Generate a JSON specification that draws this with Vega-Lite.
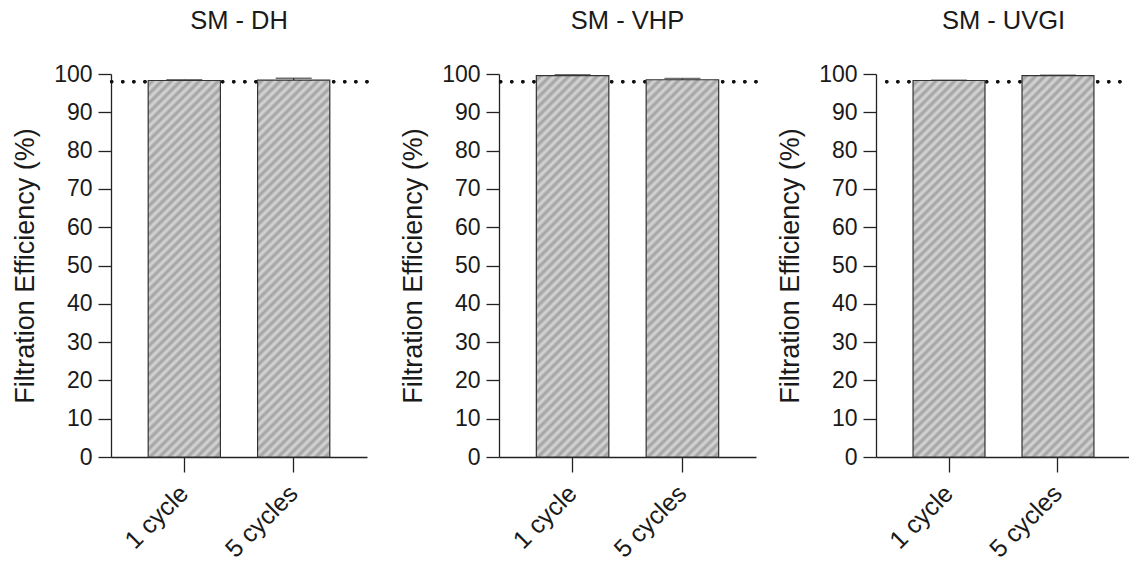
{
  "$schema": "https://vega.github.io/schema/vega-lite/v6.json",
  "background": "white",
  "padding": {"left": 11, "top": 8, "right": 0, "bottom": 0},
  "config": {
    "font": "Liberation Sans",
    "view": {"stroke": null},
    "axis": {"labelFont": "Liberation Sans", "titleFont": "Liberation Sans", "labelColor": "#1a1a1a", "titleColor": "#1a1a1a", "domainColor": "#222", "tickColor": "#222", "domainWidth": 1.3, "tickWidth": 1.3, "grid": false},
    "title": {"font": "Liberation Sans", "fontSize": 25.5, "fontWeight": "normal", "color": "#1a1a1a", "frame": "group", "anchor": "middle", "offset": 29},
    "bar": {
      "stroke": "#333",
      "strokeWidth": 1.2,
      "fill": {
        "gradient": "linear", "x1": 0, "y1": 0, "x2": 0.219, "y2": 1.149,
        "stops": [
          {"offset": 0, "color": "#d8d8d8"}, {"offset": 0.0104, "color": "#a0a0a0"},
          {"offset": 0.0208, "color": "#d8d8d8"}, {"offset": 0.0313, "color": "#a0a0a0"},
          {"offset": 0.0417, "color": "#d8d8d8"}, {"offset": 0.0521, "color": "#a0a0a0"},
          {"offset": 0.0625, "color": "#d8d8d8"}, {"offset": 0.0729, "color": "#a0a0a0"},
          {"offset": 0.0833, "color": "#d8d8d8"}, {"offset": 0.0938, "color": "#a0a0a0"},
          {"offset": 0.1042, "color": "#d8d8d8"}, {"offset": 0.1146, "color": "#a0a0a0"},
          {"offset": 0.125, "color": "#d8d8d8"}, {"offset": 0.1354, "color": "#a0a0a0"},
          {"offset": 0.1458, "color": "#d8d8d8"}, {"offset": 0.1563, "color": "#a0a0a0"},
          {"offset": 0.1667, "color": "#d8d8d8"}, {"offset": 0.1771, "color": "#a0a0a0"},
          {"offset": 0.1875, "color": "#d8d8d8"}, {"offset": 0.1979, "color": "#a0a0a0"},
          {"offset": 0.2083, "color": "#d8d8d8"}, {"offset": 0.2188, "color": "#a0a0a0"},
          {"offset": 0.2292, "color": "#d8d8d8"}, {"offset": 0.2396, "color": "#a0a0a0"},
          {"offset": 0.25, "color": "#d8d8d8"}, {"offset": 0.2604, "color": "#a0a0a0"},
          {"offset": 0.2708, "color": "#d8d8d8"}, {"offset": 0.2813, "color": "#a0a0a0"},
          {"offset": 0.2917, "color": "#d8d8d8"}, {"offset": 0.3021, "color": "#a0a0a0"},
          {"offset": 0.3125, "color": "#d8d8d8"}, {"offset": 0.3229, "color": "#a0a0a0"},
          {"offset": 0.3333, "color": "#d8d8d8"}, {"offset": 0.3438, "color": "#a0a0a0"},
          {"offset": 0.3542, "color": "#d8d8d8"}, {"offset": 0.3646, "color": "#a0a0a0"},
          {"offset": 0.375, "color": "#d8d8d8"}, {"offset": 0.3854, "color": "#a0a0a0"},
          {"offset": 0.3958, "color": "#d8d8d8"}, {"offset": 0.4063, "color": "#a0a0a0"},
          {"offset": 0.4167, "color": "#d8d8d8"}, {"offset": 0.4271, "color": "#a0a0a0"},
          {"offset": 0.4375, "color": "#d8d8d8"}, {"offset": 0.4479, "color": "#a0a0a0"},
          {"offset": 0.4583, "color": "#d8d8d8"}, {"offset": 0.4688, "color": "#a0a0a0"},
          {"offset": 0.4792, "color": "#d8d8d8"}, {"offset": 0.4896, "color": "#a0a0a0"},
          {"offset": 0.5, "color": "#d8d8d8"}, {"offset": 0.5104, "color": "#a0a0a0"},
          {"offset": 0.5208, "color": "#d8d8d8"}, {"offset": 0.5313, "color": "#a0a0a0"},
          {"offset": 0.5417, "color": "#d8d8d8"}, {"offset": 0.5521, "color": "#a0a0a0"},
          {"offset": 0.5625, "color": "#d8d8d8"}, {"offset": 0.5729, "color": "#a0a0a0"},
          {"offset": 0.5833, "color": "#d8d8d8"}, {"offset": 0.5938, "color": "#a0a0a0"},
          {"offset": 0.6042, "color": "#d8d8d8"}, {"offset": 0.6146, "color": "#a0a0a0"},
          {"offset": 0.625, "color": "#d8d8d8"}, {"offset": 0.6354, "color": "#a0a0a0"},
          {"offset": 0.6458, "color": "#d8d8d8"}, {"offset": 0.6563, "color": "#a0a0a0"},
          {"offset": 0.6667, "color": "#d8d8d8"}, {"offset": 0.6771, "color": "#a0a0a0"},
          {"offset": 0.6875, "color": "#d8d8d8"}, {"offset": 0.6979, "color": "#a0a0a0"},
          {"offset": 0.7083, "color": "#d8d8d8"}, {"offset": 0.7188, "color": "#a0a0a0"},
          {"offset": 0.7292, "color": "#d8d8d8"}, {"offset": 0.7396, "color": "#a0a0a0"},
          {"offset": 0.75, "color": "#d8d8d8"}, {"offset": 0.7604, "color": "#a0a0a0"},
          {"offset": 0.7708, "color": "#d8d8d8"}, {"offset": 0.7813, "color": "#a0a0a0"},
          {"offset": 0.7917, "color": "#d8d8d8"}, {"offset": 0.8021, "color": "#a0a0a0"},
          {"offset": 0.8125, "color": "#d8d8d8"}, {"offset": 0.8229, "color": "#a0a0a0"},
          {"offset": 0.8333, "color": "#d8d8d8"}, {"offset": 0.8438, "color": "#a0a0a0"},
          {"offset": 0.8542, "color": "#d8d8d8"}, {"offset": 0.8646, "color": "#a0a0a0"},
          {"offset": 0.875, "color": "#d8d8d8"}, {"offset": 0.8854, "color": "#a0a0a0"},
          {"offset": 0.8958, "color": "#d8d8d8"}, {"offset": 0.9063, "color": "#a0a0a0"},
          {"offset": 0.9167, "color": "#d8d8d8"}, {"offset": 0.9271, "color": "#a0a0a0"},
          {"offset": 0.9375, "color": "#d8d8d8"}, {"offset": 0.9479, "color": "#a0a0a0"},
          {"offset": 0.9583, "color": "#d8d8d8"}, {"offset": 0.9688, "color": "#a0a0a0"},
          {"offset": 0.9792, "color": "#d8d8d8"}, {"offset": 0.9896, "color": "#a0a0a0"},
          {"offset": 1, "color": "#d8d8d8"}
        ]
      }
    }
  },
  "datasets": {
    "dh": [
      {"treatment": "1 cycle", "efficiency": 98.3, "upper": 98.5},
      {"treatment": "5 cycles", "efficiency": 98.4, "upper": 98.9}
    ],
    "vhp": [
      {"treatment": "1 cycle", "efficiency": 99.6, "upper": 99.8},
      {"treatment": "5 cycles", "efficiency": 98.5, "upper": 98.8}
    ],
    "uvgi": [
      {"treatment": "1 cycle", "efficiency": 98.3, "upper": 98.4},
      {"treatment": "5 cycles", "efficiency": 99.6, "upper": 99.7}
    ]
  },
  "hconcat": [
    {
      "title": "SM - DH",
      "width": 256,
      "height": 383,
      "data": {"name": "dh"},
      "encoding": {
        "x": {"field": "treatment", "type": "nominal", "sort": ["1 cycle", "5 cycles"], "scale": {"paddingInner": 0.34, "paddingOuter": 0.34},
          "axis": {"title": null, "labelAngle": -45, "labelAlign": "right", "labelBaseline": "middle", "labelFontSize": 25, "tickSize": 15, "labelPadding": 17}},
        "y": {"type": "quantitative", "scale": {"domain": [0, 100], "nice": false},
          "axis": {"title": "Filtration Efficiency (%)", "titleFontSize": 27, "titleFontWeight": "normal", "values": [0,10,20,30,40,50,60,70,80,90,100], "labelFontSize": 23, "tickSize": 13, "labelPadding": 6, "titlePadding": 14}}
      },
      "layer": [
        {"mark": {"type": "rule", "strokeDash": [0.1, 11], "strokeCap": "round", "strokeWidth": 3.5, "color": "#111"}, "encoding": {"y": {"datum": 98}, "x": null}},
        {"mark": {"type": "bar"}, "encoding": {"y": {"field": "efficiency"}}},
        {"mark": {"type": "rule", "color": "#333", "strokeWidth": 1.5}, "encoding": {"y": {"field": "efficiency"}, "y2": {"field": "upper"}}},
        {"mark": {"type": "tick", "color": "#333", "size": 36, "thickness": 1.5}, "encoding": {"y": {"field": "upper"}}}
      ]
    },
    {
      "spacing": 18,
      "hconcat": [
        {
          "title": "SM - VHP",
          "width": 257,
          "height": 383,
          "data": {"name": "vhp"},
          "encoding": {
            "x": {"field": "treatment", "type": "nominal", "sort": ["1 cycle", "5 cycles"], "scale": {"paddingInner": 0.34, "paddingOuter": 0.34},
              "axis": {"title": null, "labelAngle": -45, "labelAlign": "right", "labelBaseline": "middle", "labelFontSize": 25, "tickSize": 15, "labelPadding": 17}},
            "y": {"type": "quantitative", "scale": {"domain": [0, 100], "nice": false},
              "axis": {"title": "Filtration Efficiency (%)", "titleFontSize": 27, "titleFontWeight": "normal", "values": [0,10,20,30,40,50,60,70,80,90,100], "labelFontSize": 23, "tickSize": 13, "labelPadding": 6, "titlePadding": 14}}
          },
          "layer": [
            {"mark": {"type": "rule", "strokeDash": [0.1, 11], "strokeCap": "round", "strokeWidth": 3.5, "color": "#111"}, "encoding": {"y": {"datum": 98}, "x": null}},
            {"mark": {"type": "bar"}, "encoding": {"y": {"field": "efficiency"}}},
            {"mark": {"type": "rule", "color": "#333", "strokeWidth": 1.5}, "encoding": {"y": {"field": "efficiency"}, "y2": {"field": "upper"}}},
            {"mark": {"type": "tick", "color": "#333", "size": 36, "thickness": 1.5}, "encoding": {"y": {"field": "upper"}}}
          ]
        },
        {
          "title": "SM - UVGI",
          "width": 255,
          "height": 383,
          "data": {"name": "uvgi"},
          "encoding": {
            "x": {"field": "treatment", "type": "nominal", "sort": ["1 cycle", "5 cycles"], "scale": {"paddingInner": 0.34, "paddingOuter": 0.34},
              "axis": {"title": null, "labelAngle": -45, "labelAlign": "right", "labelBaseline": "middle", "labelFontSize": 25, "tickSize": 15, "labelPadding": 17}},
            "y": {"type": "quantitative", "scale": {"domain": [0, 100], "nice": false},
              "axis": {"title": "Filtration Efficiency (%)", "titleFontSize": 27, "titleFontWeight": "normal", "values": [0,10,20,30,40,50,60,70,80,90,100], "labelFontSize": 23, "tickSize": 13, "labelPadding": 6, "titlePadding": 14}}
          },
          "layer": [
            {"mark": {"type": "rule", "strokeDash": [0.1, 11], "strokeCap": "round", "strokeWidth": 3.5, "color": "#111"}, "encoding": {"y": {"datum": 98}, "x": null}},
            {"mark": {"type": "bar"}, "encoding": {"y": {"field": "efficiency"}}},
            {"mark": {"type": "rule", "color": "#333", "strokeWidth": 1.5}, "encoding": {"y": {"field": "efficiency"}, "y2": {"field": "upper"}}},
            {"mark": {"type": "tick", "color": "#333", "size": 36, "thickness": 1.5}, "encoding": {"y": {"field": "upper"}}}
          ]
        }
      ]
    }
  ],
  "spacing": 30
}
